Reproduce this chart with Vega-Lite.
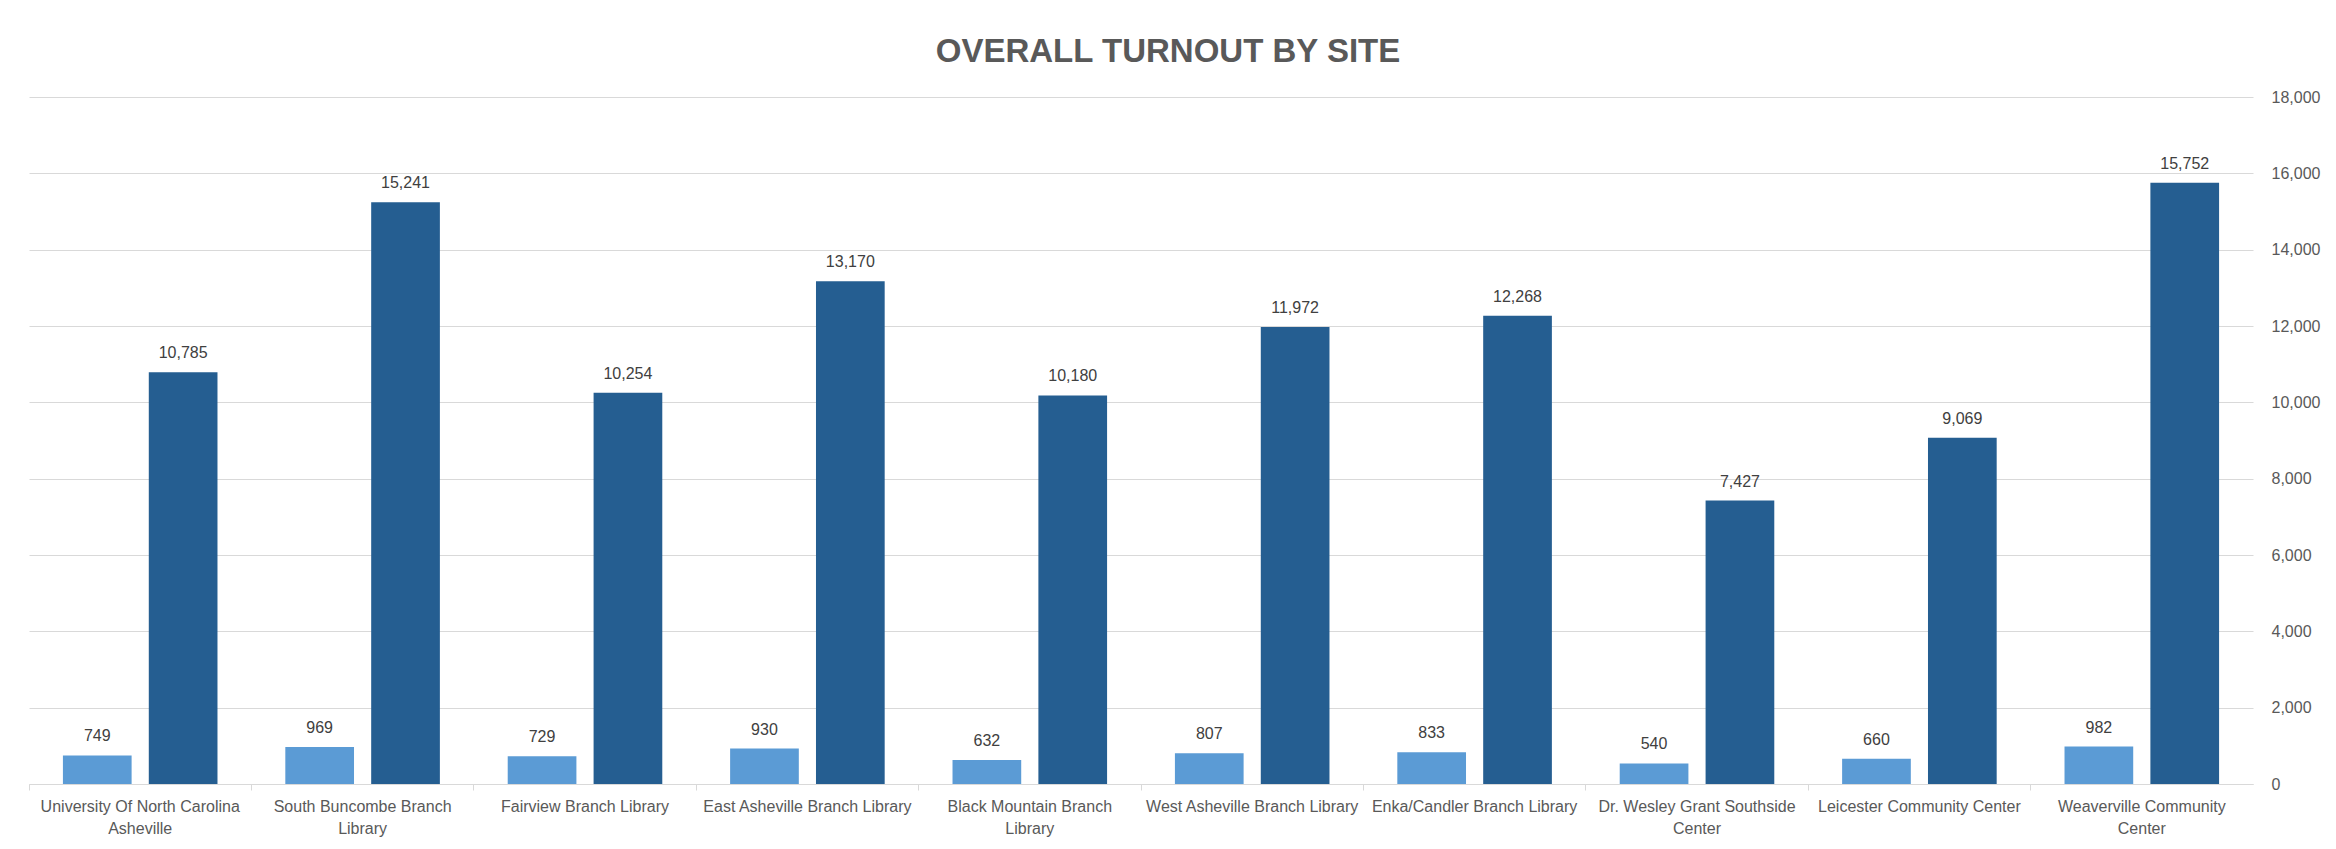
{
  "$schema": "https://vega.github.io/schema/vega-lite/v6.json",
  "width": 2224,
  "height": 687,
  "autosize": {"type": "none"},
  "padding": {"left": 29, "top": 97, "right": 83, "bottom": 65},
  "background": "white",
  "title": {
    "text": "OVERALL TURNOUT BY SITE",
    "font": "Liberation Sans",
    "fontSize": 33,
    "fontWeight": "bold",
    "color": "#595959",
    "anchor": "middle",
    "dx": 27,
    "offset": -6,
    "baseline": "alphabetic"
  },
  "data": {
    "values": [
      {"site": "University Of North Carolina Asheville", "series": "Series 1", "turnout": 749},
      {"site": "University Of North Carolina Asheville", "series": "Series 2", "turnout": 10785},
      {"site": "South Buncombe Branch Library", "series": "Series 1", "turnout": 969},
      {"site": "South Buncombe Branch Library", "series": "Series 2", "turnout": 15241},
      {"site": "Fairview Branch Library", "series": "Series 1", "turnout": 729},
      {"site": "Fairview Branch Library", "series": "Series 2", "turnout": 10254},
      {"site": "East Asheville Branch Library", "series": "Series 1", "turnout": 930},
      {"site": "East Asheville Branch Library", "series": "Series 2", "turnout": 13170},
      {"site": "Black Mountain Branch Library", "series": "Series 1", "turnout": 632},
      {"site": "Black Mountain Branch Library", "series": "Series 2", "turnout": 10180},
      {"site": "West Asheville Branch Library", "series": "Series 1", "turnout": 807},
      {"site": "West Asheville Branch Library", "series": "Series 2", "turnout": 11972},
      {"site": "Enka/Candler Branch Library", "series": "Series 1", "turnout": 833},
      {"site": "Enka/Candler Branch Library", "series": "Series 2", "turnout": 12268},
      {"site": "Dr. Wesley Grant Southside Center", "series": "Series 1", "turnout": 540},
      {"site": "Dr. Wesley Grant Southside Center", "series": "Series 2", "turnout": 7427},
      {"site": "Leicester Community Center", "series": "Series 1", "turnout": 660},
      {"site": "Leicester Community Center", "series": "Series 2", "turnout": 9069},
      {"site": "Weaverville Community Center", "series": "Series 1", "turnout": 982},
      {"site": "Weaverville Community Center", "series": "Series 2", "turnout": 15752}
    ]
  },
  "encoding": {
    "x": {
      "field": "site",
      "type": "nominal",
      "sort": null,
      "scale": {"paddingInner": 0, "paddingOuter": 0},
      "axis": {
        "title": null,
        "labelAngle": 0,
        "bandPosition": 0,
        "labelFont": "Liberation Sans",
        "labelFontSize": 16,
        "labelColor": "#595959",
        "labelLineHeight": 22,
        "labelBaseline": "top",
        "labelPadding": 8,
        "labelLimit": 0,
        "labelExpr": "datum.value == 'University Of North Carolina Asheville' ? ['University Of North Carolina', 'Asheville'] : datum.value == 'South Buncombe Branch Library' ? ['South Buncombe Branch', 'Library'] : datum.value == 'Black Mountain Branch Library' ? ['Black Mountain Branch', 'Library'] : datum.value == 'Dr. Wesley Grant Southside Center' ? ['Dr. Wesley Grant Southside', 'Center'] : datum.value == 'Weaverville Community Center' ? ['Weaverville Community', 'Center'] : datum.value",
        "domainColor": "#d9d9d9",
        "domainWidth": 1,
        "tickColor": "#d9d9d9",
        "tickSize": 6,
        "grid": false
      }
    },
    "xOffset": {
      "field": "series",
      "type": "nominal",
      "scale": {"paddingInner": 0.2, "paddingOuter": 0.395}
    },
    "y": {
      "field": "turnout",
      "type": "quantitative",
      "scale": {"domain": [0, 18000], "nice": false},
      "axis": {
        "orient": "right",
        "title": null,
        "values": [0, 2000, 4000, 6000, 8000, 10000, 12000, 14000, 16000, 18000],
        "format": ",d",
        "labelFont": "Liberation Sans",
        "labelFontSize": 16,
        "labelColor": "#595959",
        "labelPadding": 18,
        "ticks": false,
        "domain": false,
        "grid": true,
        "gridColor": "#d9d9d9",
        "gridWidth": 1
      }
    }
  },
  "layer": [
    {
      "mark": {"type": "bar"},
      "encoding": {
        "color": {
          "field": "series",
          "type": "nominal",
          "scale": {"domain": ["Series 1", "Series 2"], "range": ["#5B9BD5", "#255E91"]},
          "legend": null
        }
      }
    },
    {
      "mark": {
        "type": "text",
        "baseline": "alphabetic",
        "dy": -14,
        "font": "Liberation Sans",
        "fontSize": 16,
        "color": "#404040"
      },
      "encoding": {
        "text": {"field": "turnout", "type": "quantitative", "format": ",d"}
      }
    }
  ],
  "config": {"view": {"stroke": null}}
}
